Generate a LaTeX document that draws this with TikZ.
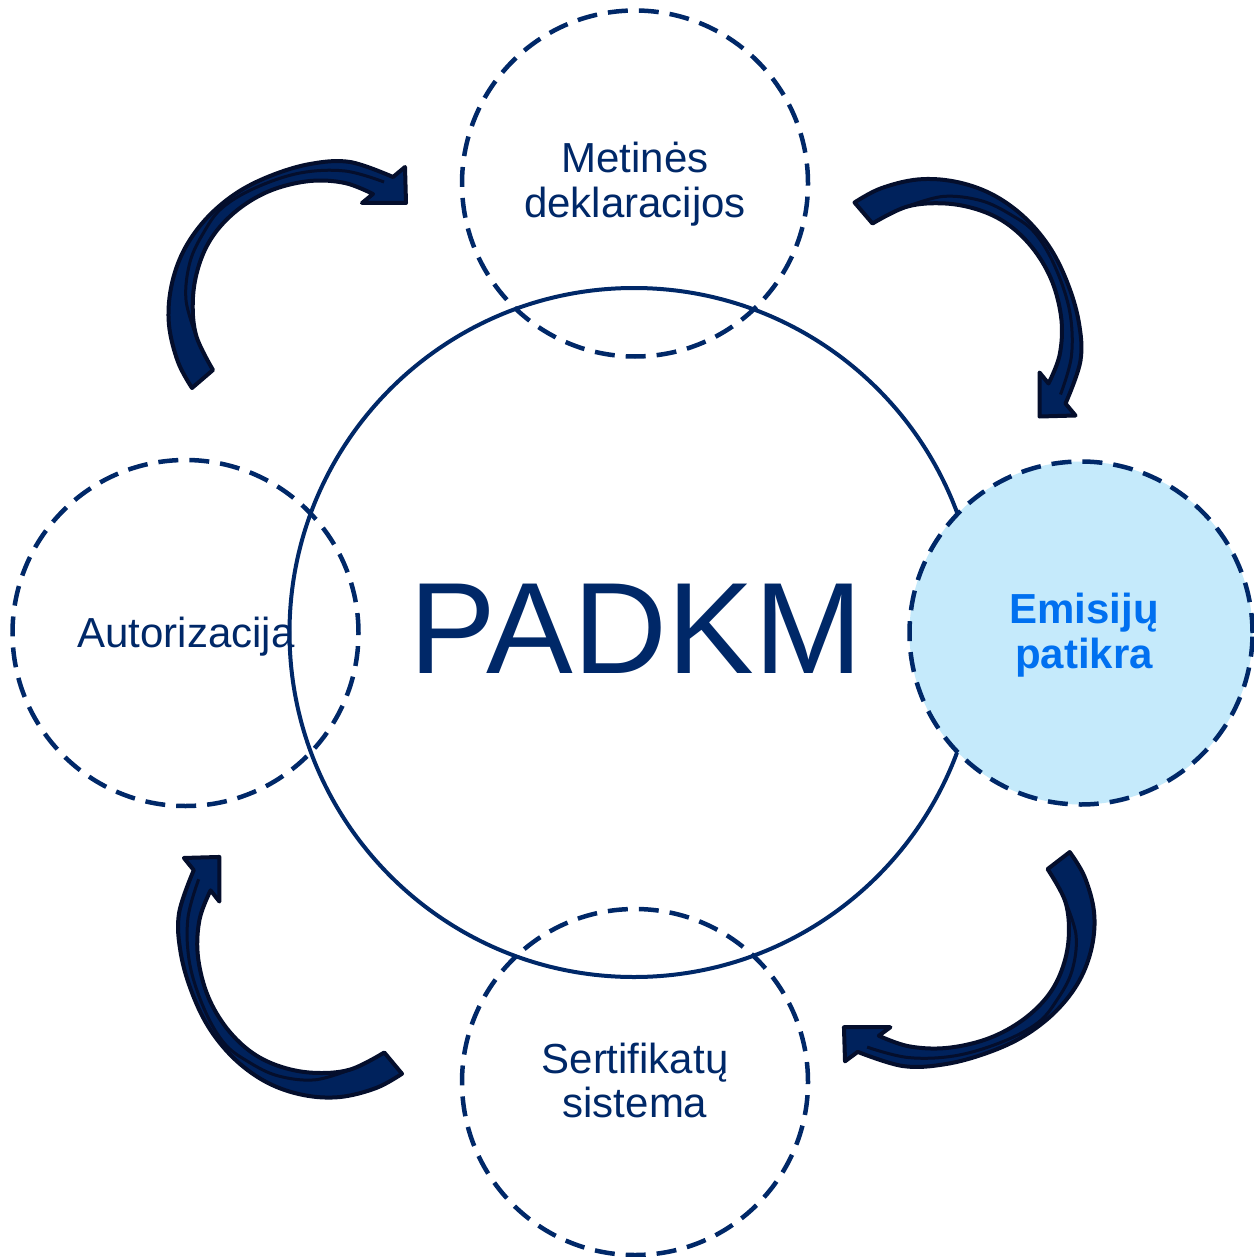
\documentclass[tikz,border=0pt]{standalone}
\usepackage{fontspec}
\setmainfont{Liberation Sans}
\definecolor{navy}{RGB}{0,40,104}
\definecolor{arrowfill}{RGB}{0,34,92}
\definecolor{arrowline}{RGB}{4,14,44}
\definecolor{paleblue}{RGB}{197,234,251}
\definecolor{brightblue}{RGB}{0,112,240}
\newcommand\myArrowShape{%
  \path[arrowbody] (192,388) -- plot[smooth,tension=0.6] coordinates {(192,388) (178,362) (169,325) (171,288) (183,252) (205,220) (235,194) (270,176) (310,164) (350,162) (393,177)}
    -- (405,167) -- (406,203) -- (362,203) -- (373,194)
    -- plot[smooth,tension=0.6] coordinates {(373,194) (345,183) (310,181) (272,190) (240,208) (215,233) (200,262) (193,297) (196,335) (213,370)}
    -- cycle;
  \draw[twistline] plot[smooth,tension=0.6] coordinates {(197,338) (186,300) (190,262) (204,232) (222,208) (255,188) (300,173) (345,171) (384,182)};
}
\begin{document}
\begin{tikzpicture}[x=1pt,y=-1pt,
  dashcirc/.style={circle, draw=navy, line width=4.5pt, dash pattern=on 20pt off 11pt, inner sep=0pt, minimum size=346pt},
  bigcirc/.style={circle, draw=navy, line width=4pt, inner sep=0pt, minimum size=689pt},
  lbl/.style={text=navy, font=\fontsize{42}{45}\selectfont, anchor=base, inner sep=0pt},
  boldlbl/.style={text=brightblue, font=\fontsize{42}{45}\selectfont\bfseries, anchor=base, inner sep=0pt},
  arrowbody/.style={fill=arrowfill, draw=arrowline, line width=4pt, line join=round},
  twistline/.style={draw=arrowline, line width=3pt}]
\useasboundingbox (0,0) rectangle (1253,1257);
\fill[white] (0,0) rectangle (1253,1257);

\node[bigcirc] (padkm) at (634,632.5) {};
\node[dashcirc] (auto) at (185.5,633) {};
\node[dashcirc] (metines) at (635,183.5) {};
\node[dashcirc] (sert) at (635,1082) {};
\node[dashcirc, fill=paleblue, minimum size=343pt] (emis) at (1081,633) {};

\node[text=navy, font=\fontsize{130}{130}\selectfont, anchor=base, inner sep=0pt] (padkmtext) at (636,673) {PADKM};
\node[lbl] (met1) at (635,173) {Metinės};
\node[lbl] (met2) at (635,218) {deklaracijos};
\node[lbl] (aut) at (186,647) {Autorizacija};
\node[lbl] (ser1) at (635,1073) {Sertifikatų};
\node[lbl] (ser2) at (635,1117) {sistema};
\node[boldlbl] (em1) at (1084,623) {Emisijų};
\node[boldlbl] (em2) at (1084,668) {patikra};

% arrows
\begin{scope}[shift={(287,274)}, shift={(-287,-274)}]
  \myArrowShape
\end{scope}
\begin{scope}[shift={(968.5,297.5)}, rotate=-90, shift={(-287,-274)}]
  \myArrowShape
\end{scope}
\begin{scope}[shift={(969.5,960)}, xscale=1.055, yscale=0.947, rotate=180, shift={(-287,-274)}]
  \myArrowShape
\end{scope}
\begin{scope}[shift={(289.5,977.5)}, xscale=0.987, yscale=1.013, rotate=90, shift={(-287,-274)}]
  \myArrowShape
\end{scope}
\end{tikzpicture}
\end{document}
